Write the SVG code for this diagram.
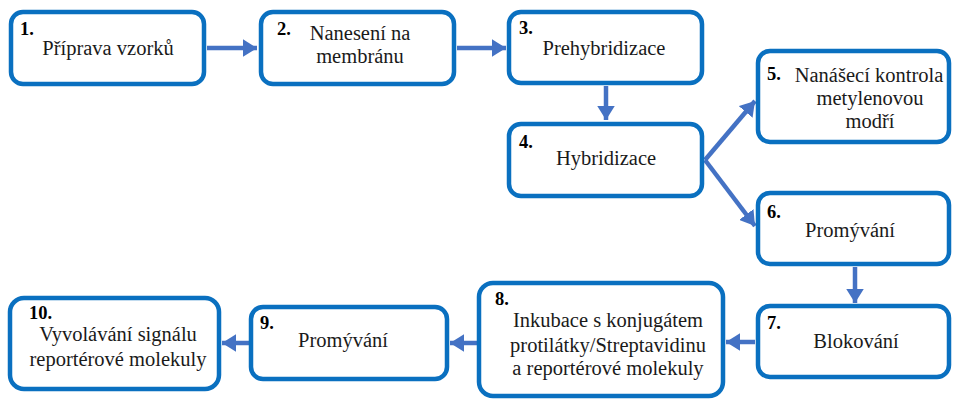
<svg xmlns="http://www.w3.org/2000/svg" width="954" height="401" viewBox="0 0 954 401">
<defs>
<style>
.box{fill:#fff;stroke:#0A70C0;stroke-width:4.5}
.t{font-size:20.5px;fill:#1a1a1a;text-anchor:middle}
.n{font-size:18.5px;font-weight:bold;fill:#000}
.c{stroke:#4472C4;stroke-width:4.5;fill:none}
</style>
<marker id="ah" markerWidth="4" markerHeight="4" refX="3.2" refY="2" orient="auto" markerUnits="strokeWidth">
<path d="M0,0 L3.2,2 L0,4 Z" fill="#4472C4"/>
</marker>
</defs>
<rect width="954" height="401" fill="#fff"/>
<g id="connectors">
<line class="c" x1="207" y1="48" x2="257" y2="48" marker-end="url(#ah)"/>
<line class="c" x1="457" y1="48" x2="506" y2="48" marker-end="url(#ah)"/>
<line class="c" x1="606" y1="86" x2="606" y2="120" marker-end="url(#ah)"/>
<line class="c" x1="705" y1="160" x2="755" y2="101" marker-end="url(#ah)"/>
<line class="c" x1="705" y1="160" x2="755" y2="226" marker-end="url(#ah)"/>
<line class="c" x1="855" y1="267" x2="855" y2="303" marker-end="url(#ah)"/>
<line class="c" x1="755" y1="342" x2="726" y2="342" marker-end="url(#ah)"/>
<line class="c" x1="477" y1="343" x2="450" y2="343" marker-end="url(#ah)"/>
<line class="c" x1="249" y1="343" x2="222" y2="343" marker-end="url(#ah)"/>
</g>
<g font-family="Liberation Serif, DejaVu Serif, serif">
<g id="n1"><rect class="box" x="11" y="12" width="193" height="72" rx="12"/>
<text class="n" x="20" y="35">1.</text>
<text class="t" x="108" y="55">Příprava vzorků</text></g>
<g id="n2"><rect class="box" x="261" y="12" width="193" height="72" rx="12"/>
<text class="n" x="277" y="35">2.</text>
<text class="t" x="360" y="40">Nanesení na</text>
<text class="t" x="360" y="63">membránu</text></g>
<g id="n3"><rect class="box" x="509" y="12" width="193" height="71" rx="12"/>
<text class="n" x="519" y="34">3.</text>
<text class="t" x="604" y="55">Prehybridizace</text></g>
<g id="n4"><rect class="box" x="509" y="124" width="193" height="72" rx="12"/>
<text class="n" x="519" y="148">4.</text>
<text class="t" x="606" y="165">Hybridizace</text></g>
<g id="n5"><rect class="box" x="758" y="51" width="191" height="91" rx="12"/>
<text class="n" x="767" y="80">5.</text>
<text class="t" x="869" y="82">Nanášecí kontrola</text>
<text class="t" x="870" y="105">metylenovou</text>
<text class="t" x="870" y="128">modří</text></g>
<g id="n6"><rect class="box" x="758" y="193" width="191" height="71" rx="12"/>
<text class="n" x="767" y="218">6.</text>
<text class="t" x="850" y="237">Promývání</text></g>
<g id="n7"><rect class="box" x="758" y="306" width="191" height="71" rx="12"/>
<text class="n" x="767" y="329">7.</text>
<text class="t" x="856" y="348">Blokování</text></g>
<g id="n8"><rect class="box" x="479" y="283" width="244" height="113" rx="14"/>
<text class="n" x="495" y="305">8.</text>
<text class="t" x="608" y="327">Inkubace s konjugátem</text>
<text class="t" x="608" y="352">protilátky/Streptavidinu</text>
<text class="t" x="608" y="375">a reportérové molekuly</text></g>
<g id="n9"><rect class="box" x="251" y="307" width="196" height="72" rx="12"/>
<text class="n" x="260" y="329">9.</text>
<text class="t" x="343" y="347">Promývání</text></g>
<g id="n10"><rect class="box" x="10" y="298" width="209" height="91" rx="14"/>
<text class="n" x="29" y="319">10.</text>
<text class="t" x="118" y="341">Vyvolávání signálu</text>
<text class="t" x="118" y="366">reportérové molekuly</text></g>
</g>
</svg>
